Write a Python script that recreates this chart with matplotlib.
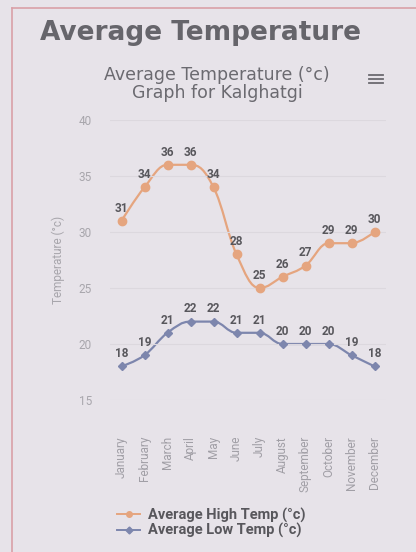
import matplotlib.pyplot as plt
from matplotlib.lines import Line2D
from matplotlib.path import Path
from matplotlib.patches import PathPatch

plt.rcParams['font.family'] = ['Roboto', 'DejaVu Sans']

months = ["January", "February", "March", "April", "May", "June", "July",
          "August", "September", "October", "November", "December"]
high = [31, 34, 36, 36, 34, 28, 25, 26, 27, 29, 29, 30]
low = [18, 19, 21, 22, 22, 21, 21, 20, 20, 20, 19, 18]

bg = "#e7e3e9"
c_high = "#e5a57f"
c_low = "#7d86ad"
txt = "#6b6a70"


def spline_path(xs, ys, smoothing=1.5):
    # bezier curve through the points, same idea as a highcharts spline
    n = len(xs)
    ctrl = []
    for i in range(n):
        if i == 0 or i == n - 1:
            ctrl.append(((xs[i], ys[i]), (xs[i], ys[i])))
            continue
        d = smoothing + 1
        lx = (smoothing * xs[i] + xs[i - 1]) / d
        ly = (smoothing * ys[i] + ys[i - 1]) / d
        rx = (smoothing * xs[i] + xs[i + 1]) / d
        ry = (smoothing * ys[i] + ys[i + 1]) / d
        corr = (ry - ly) * (rx - xs[i]) / (rx - lx) + ys[i] - ry
        ly += corr
        ry += corr
        if ly > max(ys[i - 1], ys[i]):
            ly = max(ys[i - 1], ys[i]); ry = 2 * ys[i] - ly
        elif ly < min(ys[i - 1], ys[i]):
            ly = min(ys[i - 1], ys[i]); ry = 2 * ys[i] - ly
        if ry > max(ys[i], ys[i + 1]):
            ry = max(ys[i], ys[i + 1]); ly = 2 * ys[i] - ry
        elif ry < min(ys[i], ys[i + 1]):
            ry = min(ys[i], ys[i + 1]); ly = 2 * ys[i] - ry
        ctrl.append(((lx, ly), (rx, ry)))
    verts = [(xs[0], ys[0])]
    codes = [Path.MOVETO]
    for i in range(1, n):
        verts += [ctrl[i - 1][1], ctrl[i][0], (xs[i], ys[i])]
        codes += [Path.CURVE4] * 3
    return Path(verts, codes)


fig = plt.figure(figsize=(4.16, 5.52), dpi=100, facecolor=bg)
W, H = 416, 552

# outer card border
fig.add_artist(Line2D([12 / W, 1], [1 - 8 / H, 1 - 8 / H], color="#d9a0a8", lw=1.2))
fig.add_artist(Line2D([12 / W, 12 / W], [0, 1 - 8 / H], color="#d9a0a8", lw=1.2))

fig.text(40 / W, 1 - 33 / H, "Average Temperature", fontsize=19, fontweight="bold",
         color="#66656b", va="center", ha="left", family="DejaVu Sans")
fig.text(217 / W, 1 - 75 / H, "Average Temperature (°c)", fontsize=12.5,
         color=txt, ha="center", va="center", family="DejaVu Sans")
fig.text(217 / W, 1 - 93 / H, "Graph for Kalghatgi", fontsize=12.5,
         color=txt, ha="center", va="center", family="DejaVu Sans")
for dy in (-4, 0, 4):
    fig.add_artist(Line2D([369 / W, 383 / W], [1 - (79 + dy) / H] * 2, color=txt, lw=1.3))

ax = fig.add_axes([110 / W, 1 - 400 / H, 276 / W, 280 / H])
ax.set_facecolor(bg)
x = list(range(len(months)))
ax.add_patch(PathPatch(spline_path(x, high), fill=False, edgecolor=c_high, lw=1.6))
ax.add_patch(PathPatch(spline_path(x, low), fill=False, edgecolor=c_low, lw=1.6))
ax.plot(x, high, color=c_high, lw=0, marker="o", ms=6)
ax.plot(x, low, color=c_low, lw=0, marker="D", ms=4.5)
for i in x:
    ax.text(i, high[i] + 0.55, str(high[i]), ha="center", va="bottom",
            fontsize=8.5, fontweight="bold", color="#58575c")
    ax.text(i, low[i] + 0.55, str(low[i]), ha="center", va="bottom",
            fontsize=8.5, fontweight="bold", color="#58575c")

ax.set_xlim(-0.5, 11.5)
ax.set_ylim(15, 40)
ax.set_yticks([15, 20, 25, 30, 35, 40])
ax.set_xticks(x)
ax.set_xticklabels(months, rotation=90, fontsize=8.5, color="#a19fa6")
ax.tick_params(axis="y", labelsize=8.5, labelcolor="#a8a6ac", length=0, pad=13)
ax.tick_params(axis="x", length=0, pad=26)
ax.grid(axis="y", color="#dcd8de", lw=0.8)
for s in ax.spines.values():
    s.set_visible(False)
ax.set_ylabel("Temperature (°c)", fontsize=8.5, color="#a8a6ac", labelpad=10)

leg = fig.legend(
    [Line2D([], [], color=c_high, marker="o", ms=4, lw=1.4),
     Line2D([], [], color=c_low, marker="D", ms=3.5, lw=1.4)],
    ["Average High Temp (°c)", "Average Low Temp (°c)"],
    loc="center left", bbox_to_anchor=(104 / W, 1 - 523 / H), frameon=False,
    fontsize=10.5, handlelength=1.6, handletextpad=0.5, labelspacing=0.05)
for t in leg.get_texts():
    t.set_color("#58575c")
    t.set_fontweight("bold")

fig.savefig("out.png", dpi=100, facecolor=bg)
